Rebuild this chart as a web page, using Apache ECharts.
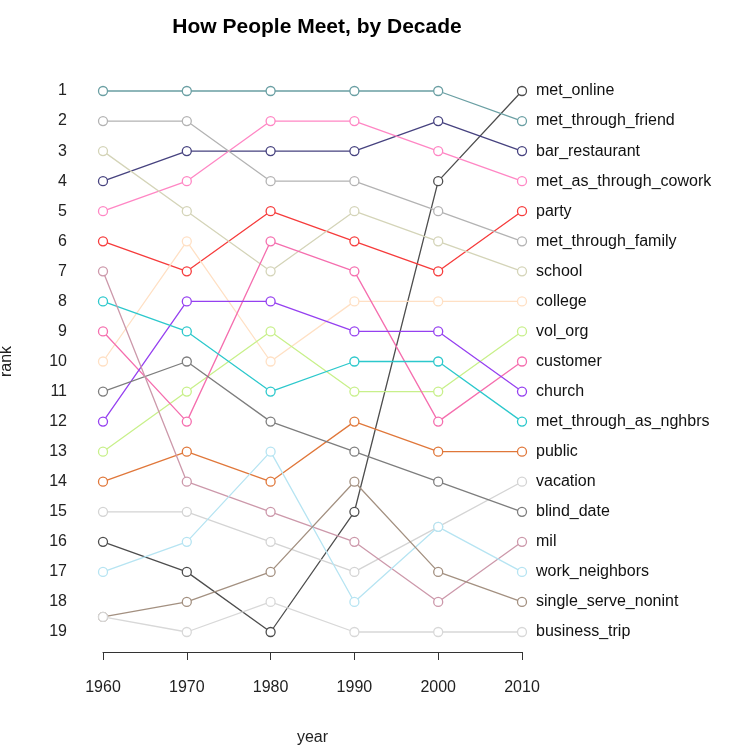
<!DOCTYPE html>
<html><head><meta charset="utf-8">
<script src="https://cdn.jsdelivr.net/npm/echarts@6/dist/echarts.min.js"></script>
<style>html,body{margin:0;background:#fff}#c{width:750px;height:748px}</style>
</head><body><div id="c"></div>
<script>
// years and ranks
const years = [1960, 1970, 1980, 1990, 2000, 2010];
const rankTicks = [1,2,3,4,5,6,7,8,9,10,11,12,13,14,15,16,17,18,19];
const seriesNames = ['met_online','met_through_friend','bar_restaurant','met_as_through_cowork','party',
  'met_through_family','school','college','vol_org','customer','church','met_through_as_nghbrs',
  'public','vacation','blind_date','mil','work_neighbors','single_serve_nonint','business_trip'];
const ranks = {
  met_online: [16,17,19,15,4,1],
  met_through_friend: [1,1,1,1,1,2],
  bar_restaurant: [4,3,3,3,2,3],
  met_as_through_cowork: [5,4,2,2,3,4],
  party: [6,7,5,6,7,5],
  met_through_family: [2,2,4,4,5,6],
  school: [3,5,7,5,6,7],
  college: [10,6,10,8,8,8],
  vol_org: [13,11,9,11,11,9],
  customer: [9,12,6,7,12,10],
  church: [12,8,8,9,9,11],
  met_through_as_nghbrs: [8,9,11,10,10,12],
  public: [14,13,14,12,13,13],
  vacation: [15,15,16,17,15.5,14],
  blind_date: [11,10,12,13,14,15],
  mil: [7,14,15,16,18,16],
  work_neighbors: [17,16,13,18,15.5,17],
  single_serve_nonint: [18.5,18,17,14,17,18],
  business_trip: [18.5,19,18,19,19,19]
};
const colors = {
  met_online:'#4d4d4d', met_through_friend:'#6a9fa3', bar_restaurant:'#46427f',
  met_as_through_cowork:'#ff86c4', party:'#f63b3b', met_through_family:'#b3b3b3',
  school:'#d4d4b8', college:'#ffe0c4', vol_org:'#c8f08a', customer:'#f56eae',
  church:'#9540f0', met_through_as_nghbrs:'#2cc8cc', public:'#e0773a', vacation:'#d4d4d4',
  blind_date:'#7d7d7d', mil:'#cc98aa', work_neighbors:'#b6e4f2', single_serve_nonint:'#a39080',
  business_trip:'#d8d8d8'
};

const chart = echarts.init(document.getElementById('c'));
chart.setOption({
  animation: false,
  title: { text: 'How People Meet, by Decade', left: 312, top: 12, textAlign: 'center',
    textStyle: { fontFamily: 'Liberation Sans', fontWeight: 'bold', fontSize: 21, color: '#000' } },
  grid: { left: 103, right: 228, top: 91, bottom: 116, containLabel: false, outerBoundsMode: 'none' },
  xAxis: {
    type: 'value', min: 1960, max: 2010, interval: 10, offset: 20,
    name: 'year', nameLocation: 'middle', nameGap: 78,
    nameTextStyle: { fontFamily: 'Liberation Sans', fontSize: 16, color: '#222' },
    axisLine: { lineStyle: { color: '#333' } },
    axisTick: { length: 8, lineStyle: { color: '#333' } },
    axisLabel: { margin: 28, fontFamily: 'Liberation Sans', fontSize: 16, color: '#222',
      formatter: v => String(v) },
    splitLine: { show: false }
  },
  yAxis: {
    type: 'value', inverse: true, min: 1, max: 19, interval: 1,
    name: 'rank', nameLocation: 'middle', nameGap: 88, nameRotate: 90,
    nameTextStyle: { fontFamily: 'Liberation Sans', fontSize: 16, color: '#222' },
    axisLine: { show: false }, axisTick: { show: false }, splitLine: { show: false },
    axisLabel: { margin: 36, fontFamily: 'Liberation Sans', fontSize: 16, color: '#222',
      formatter: v => rankTicks.includes(v) ? String(v) : '' }
  },
  series: seriesNames.map(n => ({
    name: n, type: 'line', clip: false,
    data: years.map((y, i) => [y, ranks[n][i]]),
    symbol: 'circle', symbolSize: 9,
    itemStyle: { color: '#fff', borderColor: colors[n], borderWidth: 1.3 },
    lineStyle: { color: colors[n], width: 1.3 },
    endLabel: { show: true, formatter: n, distance: 14, color: '#111',
      fontFamily: 'Liberation Sans', fontSize: 16 }
  }))
});
</script></body></html>
